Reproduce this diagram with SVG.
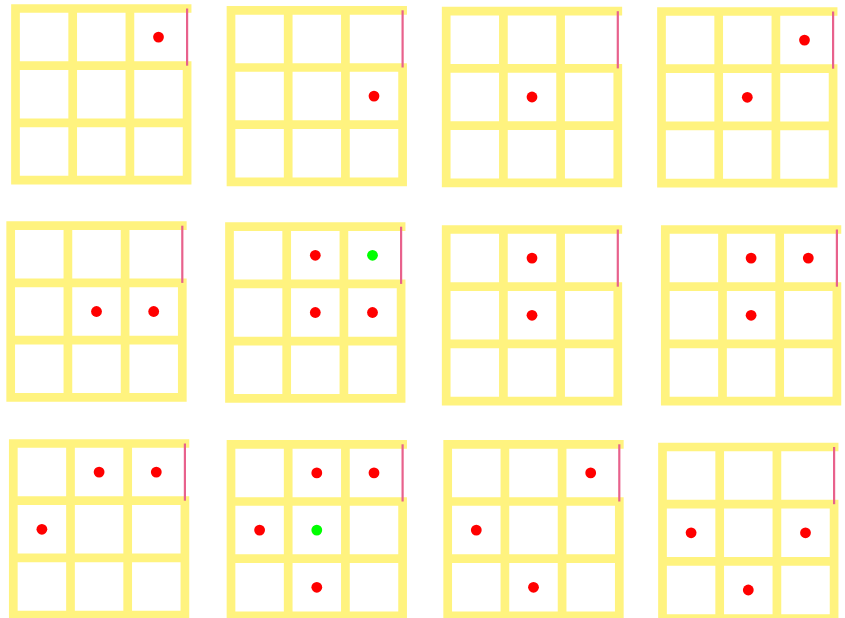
<svg xmlns="http://www.w3.org/2000/svg" xmlns:xlink="http://www.w3.org/1999/xlink" width="845" height="618" viewBox="0 0 845 618">
<style>
.bar{stroke:#fff37f;stroke-width:8.7;stroke-linecap:square;fill:none}
.edge{stroke:#e8618c;stroke-width:2.2;fill:none}
.r{fill:#ff0000}
.g{fill:#00ff00}
</style>
<defs>
<g id="board">
<path class="bar" d="M0 0H171.6M0 57.2H171.6M0 114.4H171.6M0 171.6H171.6M0 0V171.6M57.2 0V171.6M114.4 0V171.6M171.6 57.2V171.6"/>
<line class="edge" x1="171.6" y1="0" x2="171.6" y2="57.2"/>
</g>
</defs>
<rect width="845" height="618" fill="#ffffff"/>
<g id="grid1" transform="translate(15.5,8.5)"><use href="#board"/><circle class="r" cx="143" cy="28.6" r="5.4"/></g>
<g id="grid2" transform="translate(231,10.3)"><use href="#board"/><circle class="r" cx="143" cy="85.8" r="5.4"/></g>
<g id="grid3" transform="translate(446.2,11.2)"><use href="#board"/><circle class="r" cx="85.8" cy="85.8" r="5.4"/></g>
<g id="grid4" transform="translate(661.5,11.5)"><use href="#board"/><circle class="r" cx="143" cy="28.6" r="5.4"/><circle class="r" cx="85.8" cy="85.8" r="5.4"/></g>
<g id="grid5" transform="translate(10.7,225.7)"><use href="#board"/><circle class="r" cx="85.8" cy="85.8" r="5.4"/><circle class="r" cx="143" cy="85.8" r="5.4"/></g>
<g id="grid6" transform="translate(229.5,226.7)"><use href="#board"/><circle class="r" cx="85.8" cy="28.6" r="5.4"/><circle class="g" cx="143" cy="28.6" r="5.4"/><circle class="r" cx="85.8" cy="85.8" r="5.4"/><circle class="r" cx="143" cy="85.8" r="5.4"/></g>
<g id="grid7" transform="translate(446.2,229.5)"><use href="#board"/><circle class="r" cx="85.8" cy="28.6" r="5.4"/><circle class="r" cx="85.8" cy="85.8" r="5.4"/></g>
<g id="grid8" transform="translate(665.3,229.5)"><use href="#board"/><circle class="r" cx="85.8" cy="28.6" r="5.4"/><circle class="r" cx="143" cy="28.6" r="5.4"/><circle class="r" cx="85.8" cy="85.8" r="5.4"/></g>
<g id="grid9" transform="translate(13.3,443.5)"><use href="#board"/><circle class="r" cx="85.8" cy="28.6" r="5.4"/><circle class="r" cx="143" cy="28.6" r="5.4"/><circle class="r" cx="28.6" cy="85.8" r="5.4"/></g>
<g id="grid10" transform="translate(231,444.3)"><use href="#board"/><circle class="r" cx="85.8" cy="28.6" r="5.4"/><circle class="r" cx="143" cy="28.6" r="5.4"/><circle class="r" cx="28.6" cy="85.8" r="5.4"/><circle class="g" cx="85.8" cy="85.8" r="5.4"/><circle class="r" cx="85.8" cy="143" r="5.4"/></g>
<g id="grid11" transform="translate(447.7,444.3)"><use href="#board"/><circle class="r" cx="143" cy="28.6" r="5.4"/><circle class="r" cx="28.6" cy="85.8" r="5.4"/><circle class="r" cx="85.8" cy="143" r="5.4"/></g>
<g id="grid12" transform="translate(662.5,447)"><use href="#board"/><circle class="r" cx="28.6" cy="85.8" r="5.4"/><circle class="r" cx="143" cy="85.8" r="5.4"/><circle class="r" cx="85.8" cy="143" r="5.4"/></g>
<g id="connectors"></g>
</svg>
